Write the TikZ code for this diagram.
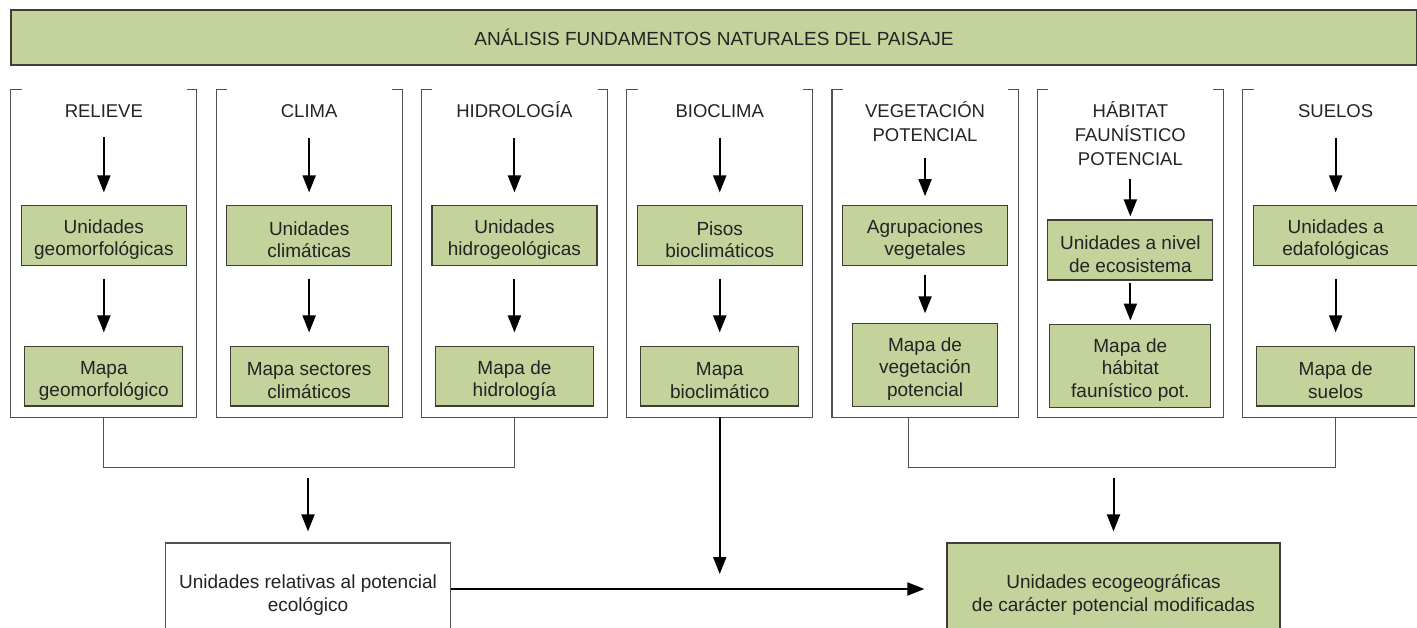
\documentclass[tikz,border=0pt]{standalone}
\usepackage{fontspec}
\setmainfont{Liberation Sans}
\usetikzlibrary{arrows.meta}
\definecolor{boxgreen}{RGB}{195,211,155}
\definecolor{boxline}{RGB}{62,62,52}
\definecolor{frameline}{RGB}{80,80,80}
\definecolor{txt}{RGB}{35,35,35}
\newcommand\colbracket[1]{\draw[fline] ([xshift=11pt]#1.north west) -- (#1.north west) -- (#1.south west) -- (#1.south east) -- (#1.north east) -- ([xshift=-10pt]#1.north east);}
\newcommand\tstrut{\rule{0pt}{22pt}}
\begin{document}
\begin{tikzpicture}[x=1pt,y=-1pt,
  every node/.style={text=txt},
  txtfont/.style={font=\fontsize{19}{22.5}\selectfont},
  banner/.style={draw=boxline, line width=1.2pt, fill=boxgreen, minimum width=1406pt, minimum height=55pt, inner sep=0pt, txtfont},
  greenbox/.style={draw=boxline, line width=1.2pt, fill=boxgreen, align=center, inner sep=0pt, txtfont},
  colbox/.style={greenbox},
  whitebox/.style={draw=frameline, line width=1.2pt, fill=white, align=center, inner sep=0pt, txtfont},
  colframe/.style={draw=none, minimum width=185.7pt, minimum height=327pt, inner sep=0pt},
  coltitle/.style={anchor=north, align=center, inner sep=0pt, font=\fontsize{18.5}{24}\selectfont},
  fline/.style={draw=frameline, line width=1.1pt},
  bline/.style={draw=frameline, line width=1.1pt},
  arr/.style={draw=black, line width=2pt, -{Triangle[length=17pt,width=13pt]}},
  bxa/.style={colbox, minimum width=165pt, minimum height=60pt},
  bxb/.style={colbox, minimum width=158pt, minimum height=59.5pt},
]
\useasboundingbox (0,0) rectangle (1417,628);
\clip (0,0) rectangle (1417,628);

\node[banner] (ban) at (714,37.5) {ANÁLISIS FUNDAMENTOS NATURALES DEL PAISAJE};

% column frames
\node[colframe] (f1) at (103.85,253.5) {};
\node[colframe] (f2) at (309.15,253.5) {};
\node[colframe] (f3) at (514.45,253.5) {};
\node[colframe] (f4) at (719.75,253.5) {};
\node[colframe] (f5) at (925.05,253.5) {};
\node[colframe] (f6) at (1130.35,253.5) {};
\node[colframe] (f7) at (1335.65,253.5) {};
\colbracket{f1}\colbracket{f2}\colbracket{f3}\colbracket{f4}\colbracket{f5}\colbracket{f6}\colbracket{f7}

% titles
\node[coltitle] (t1) at (103.85,99) {\rule{0pt}{18pt}RELIEVE};
\node[coltitle] (t2) at (309.15,99) {\rule{0pt}{18pt}CLIMA};
\node[coltitle] (t3) at (514.45,99) {\rule{0pt}{18pt}HIDROLOGÍA};
\node[coltitle] (t4) at (719.75,99) {\rule{0pt}{18pt}BIOCLIMA};
\node[coltitle] (t5) at (925.05,99) {\rule{0pt}{18pt}VEGETACIÓN\\POTENCIAL};
\node[coltitle] (t6) at (1130.35,99) {\rule{0pt}{18pt}HÁBITAT\\FAUNÍSTICO\\POTENCIAL};
\node[coltitle] (t7) at (1335.65,99) {\rule{0pt}{18pt}SUELOS};

% first boxes
\node[bxa] (u1) at (103.85,235.5) {\tstrut Unidades\\geomorfológicas};
\node[bxa] (u2) at (309.15,235.5) {\tstrut Unidades\\climáticas};
\node[bxa] (u3) at (514.45,235.5) {\tstrut Unidades\\hidrogeológicas};
\node[bxa] (u4) at (719.75,235.5) {\tstrut Pisos\\bioclimáticos};
\node[bxa] (u5) at (925.05,235.7) {\tstrut Agrupaciones\\vegetales};
\node[bxa] (u6) at (1130.35,250) {\tstrut Unidades a nivel\\de ecosistema};
\node[bxa] (u7) at (1335.65,235.5) {\tstrut Unidades a\\edafológicas};

% second boxes
\node[bxb] (m1) at (103.85,376.3) {\tstrut Mapa\\geomorfológico};
\node[bxb] (m2) at (309.15,376.3) {\tstrut Mapa sectores\\climáticos};
\node[bxb] (m3) at (514.45,376.3) {\tstrut Mapa de\\hidrología};
\node[bxb] (m4) at (719.75,376.3) {\tstrut Mapa\\bioclimático};
\node[colbox, minimum width=145pt, minimum height=83pt] (m5) at (925.05,364.7) {\tstrut Mapa de\\vegetación\\potencial};
\node[colbox, minimum width=161pt, minimum height=83pt] (m6) at (1130.35,365.7) {\tstrut Mapa de\\hábitat\\faunístico pot.};
\node[bxb] (m7) at (1335.65,376.3) {\tstrut Mapa de\\suelos};

% column arrows
\foreach \i in {1,2,3,4,7}{
  \draw[arr, shorten <=20pt, shorten >=12.5pt] (t\i) -- (u\i);
  \draw[arr, shorten <=12.5pt, shorten >=13.5pt] (u\i) -- (m\i);
}
\draw[arr, shorten <=16pt, shorten >=9pt] (t5) -- (u5);
\draw[arr, shorten <=8.5pt, shorten >=9.3pt] (u5) -- (m5);
\draw[arr, shorten <=13pt, shorten >=3pt] (t6) -- (u6);
\draw[arr, shorten <=2pt, shorten >=3pt] (u6) -- (m6);

% bottom boxes
\node[whitebox, minimum width=285pt, minimum height=104pt] (bl) at (308,595) {Unidades relativas al potencial\\ecológico};
\node[greenbox, minimum width=333pt, minimum height=104pt] (br) at (1113.5,595) {Unidades ecogeográficas\\de carácter potencial modificadas};

% brackets
\draw[bline] (f1.south) -- ++(0,50) -| (f3.south);
\draw[bline] ([xshift=-17pt]f5.south) -- ++(0,50) -| (f7.south);

\coordinate (j1) at (308,478);
\coordinate (j2) at (1113.5,478);
\coordinate (bioend) at (719.75,574);
\draw[arr, shorten >=11pt] (j1) -- (bl);
\draw[arr, shorten >=11pt] (j2) -- (br);
\draw[arr] (f4.south) -- (bioend);
\draw[arr, shorten >=22pt] ([yshift=6pt]bl.east) -- ([yshift=6pt]br.west);
\end{tikzpicture}
\end{document}
